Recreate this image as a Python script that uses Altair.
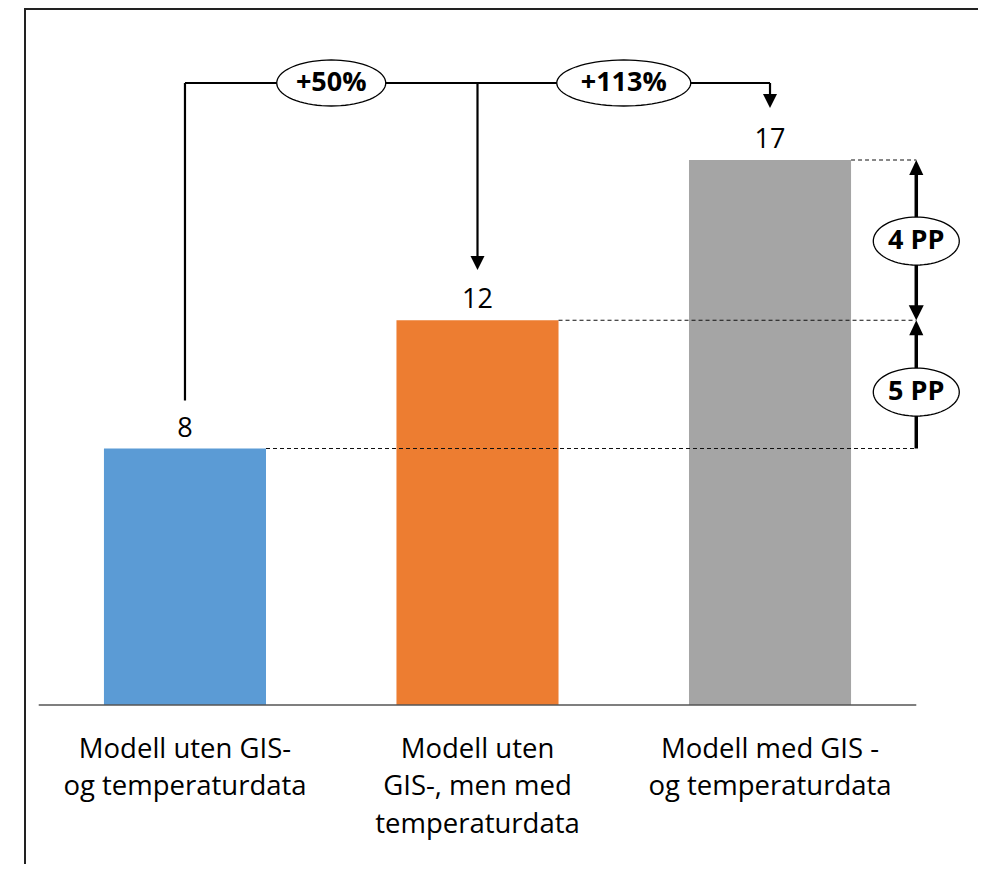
import altair as alt
import pandas as pd
import numpy as np

# ---- data ----
categories = ["Modell uten GIS-\nog temperaturdata",
              "Modell uten\nGIS-, men med\ntemperaturdata",
              "Modell med GIS -\nog temperaturdata"]
values = [8, 12, 17]
value_labels = ["8", "12", "17"]
colors = ["#5B9BD5", "#ED7D31", "#A5A5A5"]
growth_labels = ["+50%", "+113%"]
pp_labels = ["4 PP", "5 PP"]

# ---- layout ----
W, H = 970, 856
XS = alt.Scale(domain=[-0.605, 2.711], nice=False, zero=False, padding=0)
YS = alt.Scale(domain=[-4.96, 21.74], nice=False, zero=False, padding=0)
HALF = 0.277          # half bar width (category units)
RIGHT = 2.5           # right end of baseline / dashed lines / PP arrows
CONN_Y = 19.4         # level of the top connector
FONT = "Open Sans"


def X(f):
    return alt.X(f, type="quantitative", scale=XS, axis=None)


def Y(f):
    return alt.Y(f, type="quantitative", scale=YS, axis=None)


def ellipse_path(ratio, n=72):
    t = np.linspace(0, 2 * np.pi, n, endpoint=False)
    pts = ["%.4f,%.4f" % (np.cos(a), ratio * np.sin(a)) for a in t]
    return "M" + "L".join(pts) + "Z"


DOWN = "M-0.5,-1L0.5,-1L0,0Z"
UP = "M-0.47,1L0.47,1L0,0Z"

idx = list(range(len(values)))
bars_df = pd.DataFrame({
    "i": idx,
    "x0": [i - HALF for i in idx],
    "x1": [i + HALF for i in idx],
    "value": values,
    "base": [0] * len(values),
    "color": colors,
    "label": value_labels,
    "cat": categories,
    "cat_y": [-1.653] * len(values),
    "dash_end": [RIGHT] * len(values),
})

bars = alt.Chart(bars_df).mark_bar().encode(
    x=X("x0"), x2="x1", y=Y("value"), y2="base",
    color=alt.Color("color:N", scale=None))

dashed = alt.Chart(bars_df).mark_rule(
    color="#111111", strokeWidth=1.1, strokeDash=[4, 3]).encode(
    x=X("x1"), x2="dash_end", y=Y("value"))

baseline = alt.Chart(pd.DataFrame({"a": [-0.5], "b": [RIGHT], "y": [0]})).mark_rule(
    color="#555555", strokeWidth=1.6).encode(x=X("a"), x2="b", y=Y("y"))

value_text = alt.Chart(bars_df).mark_text(
    font=FONT, fontSize=27, align="center", baseline="alphabetic", dy=-12,
    color="#000000").encode(x=X("i"), y=Y("value"), text="label:N")

cat_text = alt.Chart(bars_df).mark_text(
    font=FONT, fontSize=27.5, align="center", baseline="alphabetic",
    lineBreak="\n", lineHeight=37.5, color="#000000").encode(
    x=X("i"), y=Y("cat_y"), text="cat:N")

# thin connector lines (growth comparison)
conn_df = pd.DataFrame({
    "x": [0, 0, 1, 2],
    "x2": [2, 0, 1, 2],
    "y": [CONN_Y] * 4,
    "y2": [CONN_Y, values[0] + 1.5, values[1] + 1.97, values[2] + 2.03],
})
connectors = alt.Chart(conn_df).mark_rule(color="black", strokeWidth=2.2).encode(
    x=X("x"), x2="x2", y=Y("y"), y2="y2")

# thick vertical PP arrows
thick_df = pd.DataFrame({
    "x": [RIGHT, RIGHT],
    "y": [values[2] - 0.4, values[1] - 0.4],
    "y2": [values[1] + 0.4, values[0]],
})
thick = alt.Chart(thick_df).mark_rule(color="black", strokeWidth=3.5).encode(
    x=X("x"), y=Y("y"), y2="y2")

heads_df = pd.DataFrame({
    "x": [1, 2, RIGHT, RIGHT, RIGHT],
    "y": [values[1] + 1.57, values[2] + 1.62, values[2], values[1], values[1]],
    "shape": [DOWN, DOWN, UP, DOWN, UP],
    "size": [784, 784, 900, 900, 900],
})
heads = alt.Chart(heads_df).mark_point(
    filled=True, color="black", opacity=1, strokeWidth=0).encode(
    x=X("x"), y=Y("y"),
    shape=alt.Shape("shape:N", scale=None),
    size=alt.Size("size:Q", scale=None))

# ellipse labels
ell_df = pd.DataFrame({
    "x": [0.5, 1.5, RIGHT, RIGHT],
    "y": [CONN_Y, CONN_Y, 14.47, 9.76],
    "label": growth_labels + pp_labels,
    "shape": [ellipse_path(46 / 109), ellipse_path(46 / 134),
              ellipse_path(48 / 86), ellipse_path(48 / 86)],
    "size": [109 ** 2, 134 ** 2, 86 ** 2, 86 ** 2],
})
ellipses = alt.Chart(ell_df).mark_point(
    filled=True, fill="white", stroke="black", strokeWidth=1.3, opacity=1).encode(
    x=X("x"), y=Y("y"),
    shape=alt.Shape("shape:N", scale=None),
    size=alt.Size("size:Q", scale=None))
ell_text = alt.Chart(ell_df).mark_text(
    font=FONT, fontSize=27, fontWeight="bold", align="center",
    baseline="middle", color="black").encode(
    x=X("x"), y=Y("y"), text="label:N")

# outer frame (top and left edges visible in the window)
one = pd.DataFrame({"a": [0]})
frame_top = alt.Chart(one).mark_rule(color="#222222", strokeWidth=2).encode(
    x=alt.value(16), x2=alt.value(W), y=alt.value(1))
frame_left = alt.Chart(one).mark_rule(color="#222222", strokeWidth=2).encode(
    x=alt.value(17), y=alt.value(0), y2=alt.value(H))

chart = alt.layer(
    frame_top, frame_left, bars, dashed, baseline, connectors, thick, heads,
    ellipses, ell_text, value_text, cat_text
).properties(
    width=W, height=H, padding=0,
    autosize=alt.AutoSizeParams(type="none")
).configure_view(stroke=None)

chart.save("out.html", embed_options={"renderer": "svg", "actions": False})
